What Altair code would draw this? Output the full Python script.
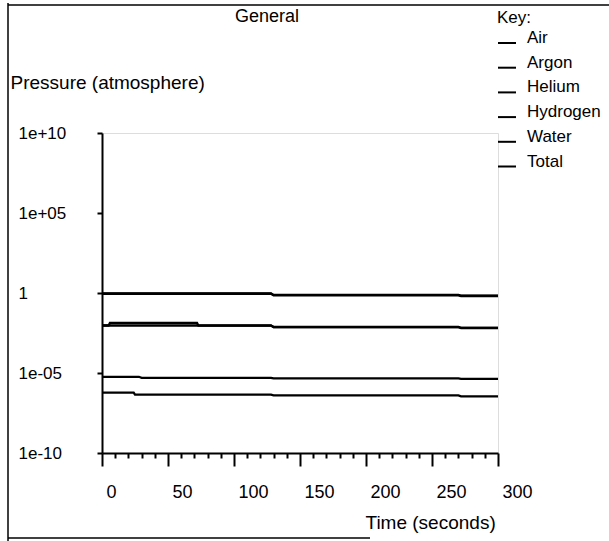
import altair as alt
import pandas as pd

# ---- data ----
series_names = ["Air", "Argon", "Helium", "Hydrogen", "Water", "Total"]

air_t = [0, 128, 130, 270, 272, 300]
air_p = [0.90, 0.90, 0.72, 0.72, 0.65, 0.65]

argon_t = [0, 128, 130, 270, 272, 300]
argon_p = [0.0093, 0.0093, 0.0075, 0.0075, 0.0066, 0.0066]

helium_t = [0, 28, 30, 128, 130, 270, 272, 300]
helium_p = [5.8e-6, 5.8e-6, 5.0e-6, 5.0e-6, 4.6e-6, 4.6e-6, 4.3e-6, 4.3e-6]

hydrogen_t = [0, 24, 25, 128, 130, 270, 272, 300]
hydrogen_p = [6.0e-7, 6.0e-7, 4.5e-7, 4.5e-7, 4.0e-7, 4.0e-7, 3.5e-7, 3.5e-7]

water_t = [0, 5, 6, 72, 73, 128, 130, 270, 272, 300]
water_p = [0.0093, 0.0093, 0.0135, 0.0135, 0.0092, 0.0092, 0.0074, 0.0074, 0.0065, 0.0065]

total_t = [0, 128, 130, 270, 272, 300]
total_p = [0.95, 0.95, 0.76, 0.76, 0.68, 0.68]

chart_title = "General"
y_ticks = [1e-10, 1e-5, 1, 1e5, 1e10]
x_ticks = list(range(0, 301, 10))

rows = []
for name, ts, ps in [
    ("Air", air_t, air_p),
    ("Argon", argon_t, argon_p),
    ("Helium", helium_t, helium_p),
    ("Hydrogen", hydrogen_t, hydrogen_p),
    ("Water", water_t, water_p),
    ("Total", total_t, total_p),
]:
    for i, (t, p) in enumerate(zip(ts, ps)):
        rows.append({"series": name, "time": t, "pressure": p, "order": i})
df = pd.DataFrame(rows)

FONT = "Liberation Sans"
FS = 18
W, H = 396, 320
PL, PT = 102, 133

lines = alt.Chart(df).mark_line(strokeWidth=2.3, clip=False).encode(
    x=alt.X(
        "time:Q",
        scale=alt.Scale(domain=[0, 300], nice=False, zero=False),
        axis=alt.Axis(
            values=x_ticks,
            labelExpr="datum.value % 50 === 0 ? datum.label : ''",
            tickSize={"condition": {"test": "datum.value % 50 === 0", "value": 13}, "value": 5},
            labelAlign="left",
            labelOffset=4,
            labelPadding=26,
            labelBaseline="middle",
            labelFont=FONT,
            labelFontSize=FS,
            labelColor="black",
            domainColor="black",
            domainWidth=2,
            tickColor="black",
            tickWidth=2,
            grid=False,
            title="Time (seconds)",
            titleFont=FONT,
            titleFontSize=19,
            titleFontWeight="normal",
            titleColor="black",
            titleAlign="left",
            titleBaseline="middle",
            titleAnchor="start",
            titleX=263,
            titleY=69,
        ),
    ),
    y=alt.Y(
        "pressure:Q",
        scale=alt.Scale(type="log", domain=[1e-10, 1e10], nice=False),
        axis=alt.Axis(
            values=y_ticks,
            labelExpr="datum.value > 5e9 ? '1e+10' : datum.value > 5e4 ? '1e+05' : datum.value > 0.5 ? '1' : datum.value > 5e-6 ? '1e-05' : '1e-10'",
            tickSize=5,
            labelAlign="left",
            labelPadding=79,
            labelFont=FONT,
            labelFontSize=17,
            labelColor="black",
            domainColor="black",
            domainWidth=2,
            tickColor="black",
            tickWidth=2,
            grid=False,
            title="Pressure (atmosphere)",
            titleFont=FONT,
            titleFontSize=19,
            titleFontWeight="normal",
            titleColor="black",
            titleAngle=0,
            titleAlign="left",
            titleBaseline="middle",
            titleX=-92,
            titleY=-51,
        ),
    ),
    color=alt.Color(
        "series:N",
        scale=alt.Scale(domain=series_names, range=["black"] * 6),
        legend=alt.Legend(
            title="Key:",
            orient="none",
            legendX=395,
            legendY=-123,
            titleFont=FONT,
            titleFontSize=17,
            titleFontWeight="normal",
            titleColor="black",
            titlePadding=6,
            labelFont=FONT,
            labelFontSize=17,
            labelColor="black",
            labelBaseline="alphabetic",
            labelOffset=10,
            symbolType="stroke",
            symbolSize=324,
            symbolStrokeWidth=2,
            rowPadding=6.7,
        ),
    ),
    order="order:Q",
    detail="series:N",
)

single = alt.Data(values=[{"a": 1}])
title_text = alt.Chart(single).mark_text(
    font=FONT, fontSize=18, color="black", align="center", baseline="middle"
).encode(x=alt.value(165), y=alt.value(-116), text=alt.value(chart_title))

frame_left = alt.Chart(single).mark_rule(color="black", strokeWidth=1.5).encode(
    x=alt.value(-94), y=alt.value(-130), y2=alt.value(408)
)
frame_top = alt.Chart(single).mark_rule(color="black", strokeWidth=1.5).encode(
    x=alt.value(-94), x2=alt.value(507), y=alt.value(-128)
)
frame_bottom = alt.Chart(single).mark_rule(color="black", strokeWidth=1.5).encode(
    x=alt.value(-94), x2=alt.value(268), y=alt.value(405)
)

chart = alt.layer(lines, title_text, frame_left, frame_top, frame_bottom).properties(
    width=W,
    height=H,
    autosize=alt.AutoSizeParams(type="none"),
    padding={"left": PL, "top": PT, "right": 609 - PL - W, "bottom": 541 - PT - H},
).configure_view(stroke=None).configure(background="white")

chart.save("out.html", embed_options={"renderer": "svg", "actions": False})
